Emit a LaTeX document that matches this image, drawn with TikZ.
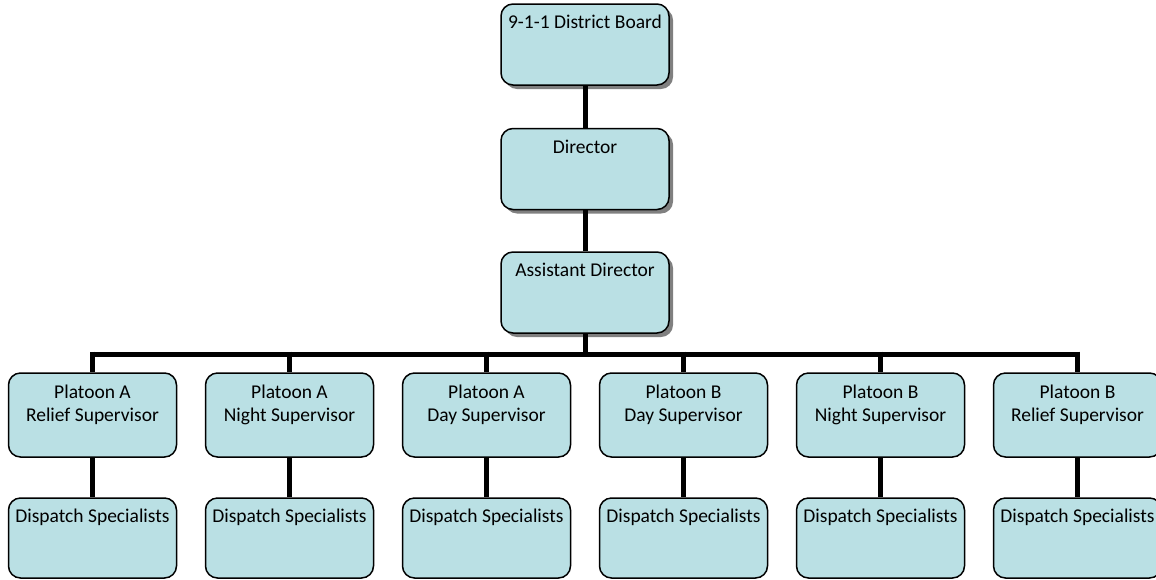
\documentclass[tikz,border=0pt]{standalone}
\usepackage{fontspec}
\setmainfont{Carlito}
\usetikzlibrary{shadows}
\definecolor{boxfill}{RGB}{186,224,228}
\definecolor{shadowgray}{RGB}{128,128,128}
\tikzset{
  box/.style={draw=black, line width=1.5pt, fill=boxfill, rounded corners=12pt,
    minimum width=168pt, inner sep=0pt},
  shadowbox/.style={box, drop shadow={shadow xshift=4pt, shadow yshift=-4pt, fill=shadowgray, opacity=1}},
  lbl/.style={anchor=north, inner sep=0pt, align=center, font=\fontsize{19.5}{23.4}\selectfont, text height=14pt},
  conn/.style={line width=5pt, black}
}
\begin{document}
\begin{tikzpicture}[x=1pt,y=-1pt]
\useasboundingbox (0,0) rectangle (1156,579);
% connector geometry
\coordinate (bar) at (585,354);
\foreach \i in {0,...,5}{
  \pgfmathsetmacro{\cx}{92.5+197*\i}
  \coordinate (j\i) at (\cx,354);
}
% top chain
\node[shadowbox, minimum height=81pt] (board) at (585,44.5) {};
\node[shadowbox, minimum height=81pt] (dir) at (585,169) {};
\node[shadowbox, minimum height=81pt] (asst) at (585,292.5) {};
\draw[conn] (board.south) -- (dir.north);
\draw[conn] (dir.south) -- (asst.north);
\draw[conn] (asst.south) -- (bar);
\draw[conn] (j0) -- (j5);
\foreach \i/\t in {0/{Platoon A\\Relief Supervisor},1/{Platoon A\\Night Supervisor},2/{Platoon A\\Day Supervisor},3/{Platoon B\\Day Supervisor},4/{Platoon B\\Night Supervisor},5/{Platoon B\\Relief Supervisor}}{
  \pgfmathsetmacro{\cx}{92.5+197*\i}
  \node[box, minimum height=84pt] (p\i) at (\cx,415) {};
  \node[box, minimum height=80pt] (d\i) at (\cx,538) {};
  \draw[conn] ([yshift=2.5pt]j\i) -- (p\i.north);
  \draw[conn] (p\i.south) -- (d\i.north);
  \node[lbl] (pt\i) at ([yshift=-35pt]p\i.north) {\t};
  \node[lbl] (dt\i) at ([yshift=-11.5pt]d\i.north) {Dispatch Specialists};
}
\node[lbl] (boardt) at ([yshift=-11.5pt]board.north) {9-1-1 District Board};
\node[lbl] (dirt) at ([yshift=-11.5pt]dir.north) {Director};
\node[lbl] (asstt) at ([yshift=-11.5pt]asst.north) {Assistant Director};
\end{tikzpicture}
\end{document}
